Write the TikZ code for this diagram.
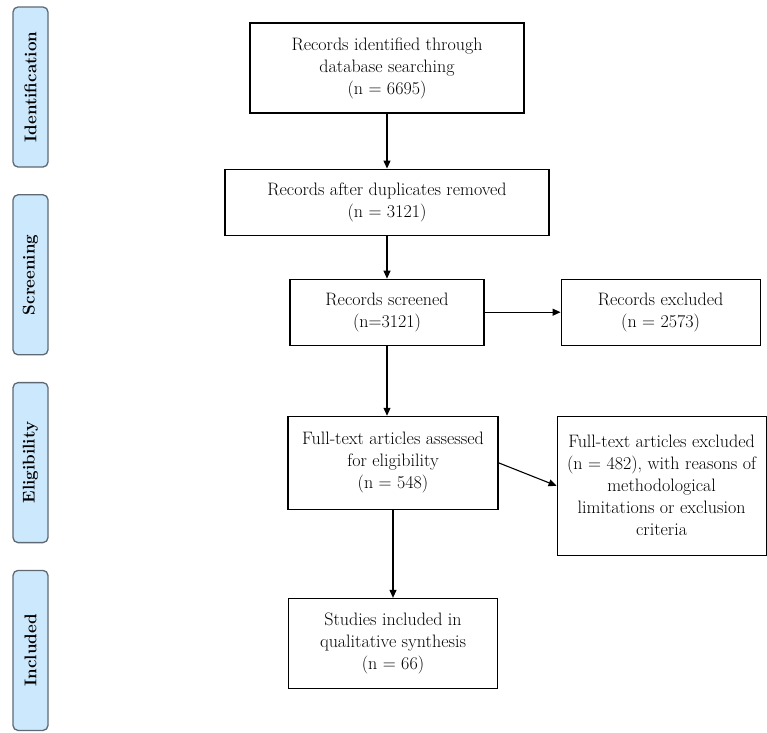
\documentclass[tikz,border=0pt]{standalone}
\usepackage{tikz}
\usepackage{graphicx}
\usetikzlibrary{positioning,arrows.meta}
\definecolor{phasefill}{RGB}{204,232,252}
\definecolor{phaseline}{RGB}{95,105,115}

\begin{document}
\begin{tikzpicture}[
      box/.style={rectangle, draw, line width=1.1pt, align=center, inner sep=2pt, font=\fontsize{18}{22}\selectfont},
      phase/.style={rectangle, draw=phaseline, fill=phasefill, line width=1.3pt, rounded corners=5pt, minimum width=35pt, minimum height=160pt, inner sep=0pt, font=\fontsize{17}{18}\selectfont\bfseries},
      arr/.style={line width=1.1pt, -{Triangle[length=8pt,width=7pt]}}
  ]
      \useasboundingbox (0,0) rectangle (767pt,-732pt);

      % Phases on the left
      \node (identphase) [phase] at (30.5pt,-87pt) {\rotatebox{90}{Identification}};
      \node (screenphase) [phase, below=26.5pt of identphase] {\rotatebox{90}{Screening}};
      \node (eligphase) [phase, below=26.5pt of screenphase] {\rotatebox{90}{Eligibility}};
      \node (inclphase) [phase, below=26.5pt of eligphase] {\rotatebox{90}{Included}};

      % Flow boxes
      \node (identified) [box, minimum width=274pt, minimum height=90pt] at (387pt,-68pt) {Records identified through\\database searching\\(n = 6695)};
      \node (duplicates) [box, minimum width=324pt, minimum height=66pt, below=55pt of identified] {Records after duplicates removed\\(n = 3121)};
      \node (screened) [box, minimum width=194pt, minimum height=66pt, below=43pt of duplicates] {Records screened\\(n=3121)};
      \node (excluded) [box, minimum width=199pt, minimum height=66pt, right=76pt of screened] {Records excluded\\(n = 2573)};
      \node (assessed) [box, minimum width=210pt, minimum height=93pt, below=70pt of screened, xshift=6pt] {Full-text articles assessed\\for eligibility\\(n = 548)};
      \node (fullexcl) [box, minimum width=209pt, minimum height=139pt, right=58pt of assessed, yshift=-23pt] {Full-text articles excluded\\(n = 482), with reasons of\\methodological\\limitations or exclusion\\criteria};
      \node (included) [box, minimum width=209pt, minimum height=90pt, below=88pt of assessed] {Studies included in\\qualitative synthesis\\(n = 66)};

      % Connections
      \draw[arr] (identified) -- (duplicates);
      \draw[arr] (duplicates) -- (screened);
      \draw[arr] (screened) -- (excluded);
      \draw[arr] (screened) -- (screened |- assessed.north);
      \draw[arr] (assessed.east) -- (fullexcl.west);
      \draw[arr] (assessed) -- (included);
\end{tikzpicture}
\end{document}
